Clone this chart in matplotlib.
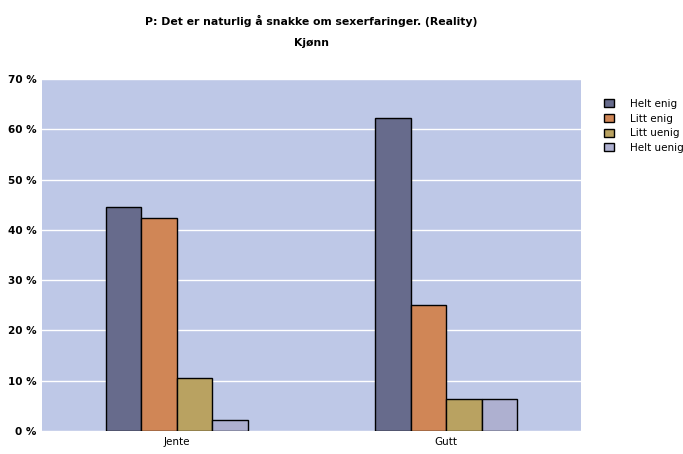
import matplotlib.pyplot as plt
import numpy as np

categories = ["Jente", "Gutt"]
series = ["Helt enig", "Litt enig", "Litt uenig", "Helt uenig"]
values = {
    "Helt enig": [44.5, 62.2],
    "Litt enig": [42.4, 25.0],
    "Litt uenig": [10.5, 6.4],
    "Helt uenig": [2.2, 6.4],
}
colors = ["#676b8c", "#d08656", "#b9a261", "#aeb0d0"]
yticks = [0, 10, 20, 30, 40, 50, 60, 70]

fig = plt.figure(figsize=(6.83, 4.54), dpi=100)
ax = fig.add_axes([0.0615, 0.0507, 0.7892, 0.7753])
ax.set_facecolor("#bec8e7")

x = np.arange(len(categories))
width = 0.132
for i, (name, color) in enumerate(zip(series, colors)):
    ax.bar(x + (i - 1.5) * width, values[name], width, color=color,
           edgecolor="black", linewidth=1.0, label=name, zorder=3)

ax.set_xlim(-0.5, 1.5)
ax.set_ylim(0, 70)
ax.set_yticks(yticks)
ax.set_yticklabels([f"{t} %" for t in yticks], fontsize=7.5, fontweight="bold")
ax.set_xticks(x)
ax.set_xticklabels(categories, fontsize=7.5)
ax.tick_params(length=0, pad=4)
ax.yaxis.grid(True, color="white", linewidth=1.0, zorder=1)
for s in ax.spines.values():
    s.set_visible(False)

cx = 0.0615 + 0.7892 / 2
fig.text(cx, 0.953, "P: Det er naturlig å snakke om sexerfaringer. (Reality)",
         ha="center", va="center", fontsize=7.8, fontweight="bold")
fig.text(cx, 0.905, "Kjønn", ha="center", va="center", fontsize=7.8, fontweight="bold")

ax.legend(loc="upper left", bbox_to_anchor=(1.025, 0.97), frameon=False,
          fontsize=7.5, handlelength=1.0, handleheight=0.8, labelspacing=0.45,
          handletextpad=1.5)

fig.savefig("out.png", dpi=100)
